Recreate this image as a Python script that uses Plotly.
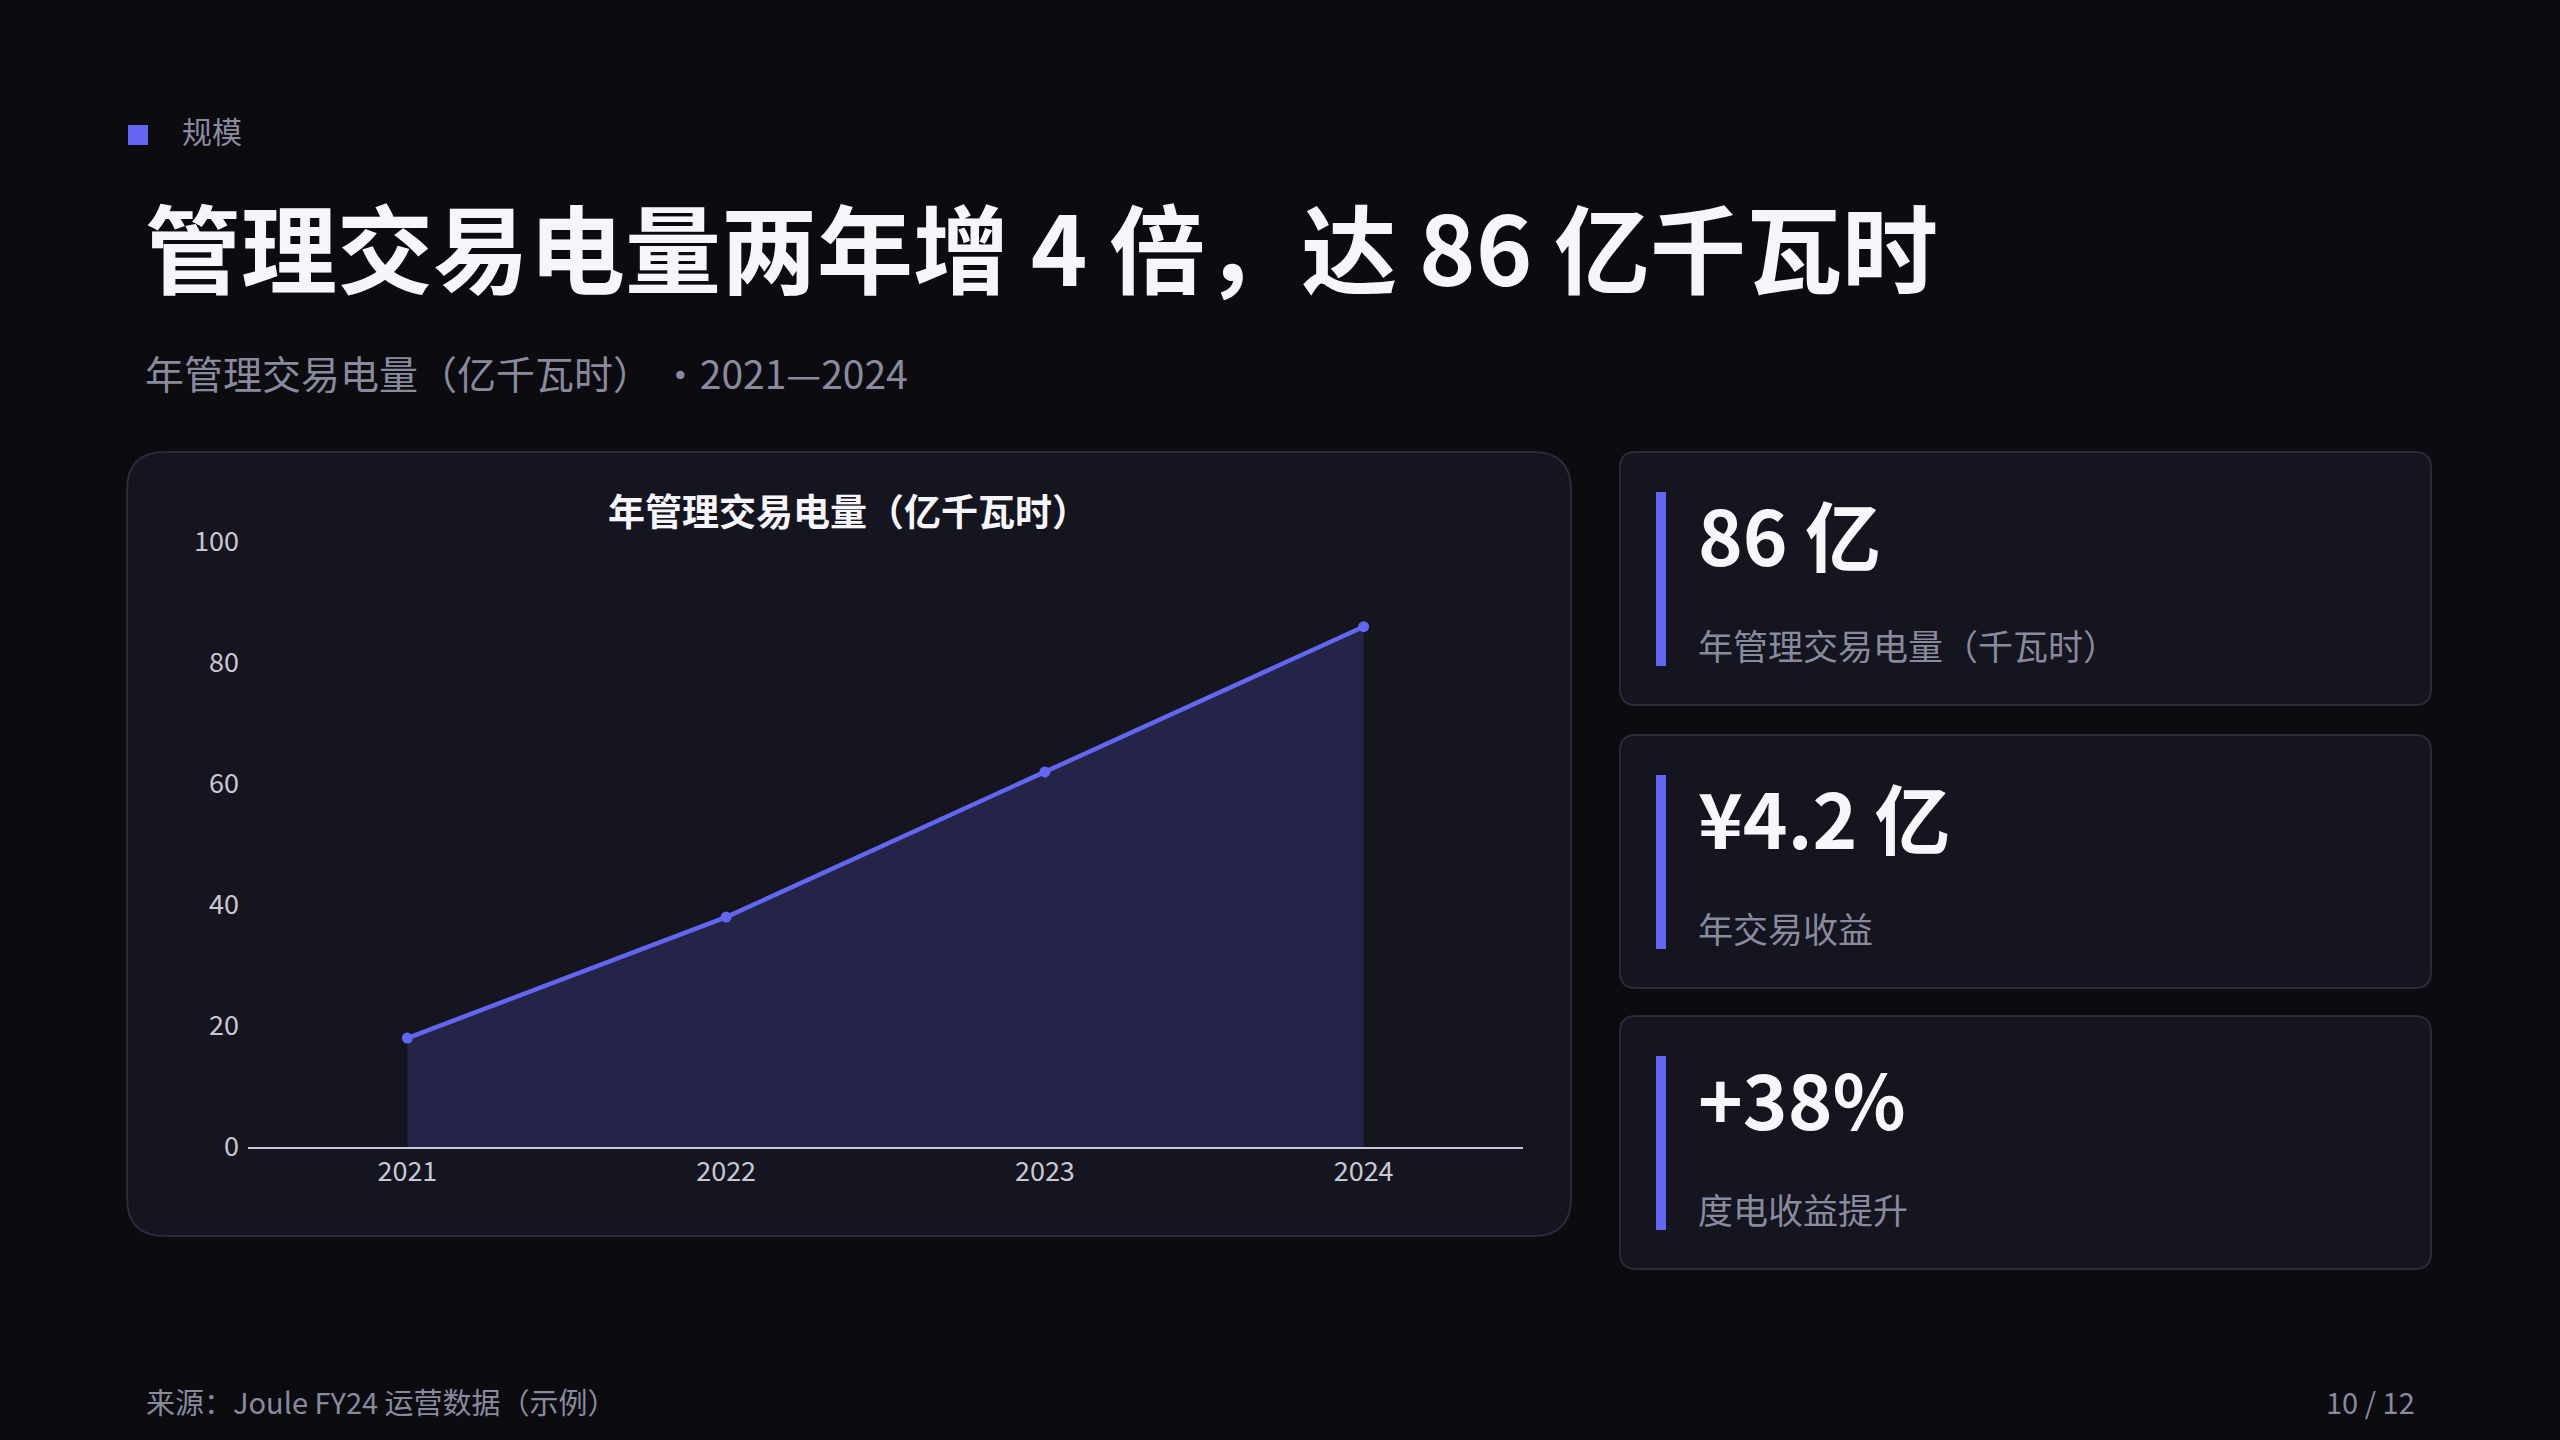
import plotly.graph_objects as go

W, H = 2560, 1440

years = ['2021', '2022', '2023', '2024']
volume = [18, 38, 62, 86]  # 亿千瓦时
y_ticks = [0, 20, 40, 60, 80, 100]

kpi_values = ['86 亿', '¥4.2 亿', '+38%']
kpi_labels = ['年管理交易电量（千瓦时）', '年交易收益', '度电收益提升']

BG = '#0b0b10'
CARD = '#15151f'
BORDER = '#2a2a3a'
ACCENT = '#6366f1'
MUTED = '#8a8a9e'
FONT = 'Noto Sans CJK SC'


def px(x, y):
    return x / W, 1 - y / H


def rrect(x0, y0, x1, y1, r):
    def p(x, y):
        a, b = px(x, y)
        return f'{a:.5f},{b:.5f}'

    path = (f'M {p(x0 + r, y0)} L {p(x1 - r, y0)} Q {p(x1, y0)} {p(x1, y0 + r)} '
            f'L {p(x1, y1 - r)} Q {p(x1, y1)} {p(x1 - r, y1)} '
            f'L {p(x0 + r, y1)} Q {p(x0, y1)} {p(x0, y1 - r)} '
            f'L {p(x0, y0 + r)} Q {p(x0, y0)} {p(x0 + r, y0)} Z')
    return dict(type='path', xref='paper', yref='paper', path=path,
                fillcolor=CARD, line=dict(color=BORDER, width=2), layer='below')


def text(x, y, s, size, color, bold=False, anchor='left'):
    a, b = px(x, y)
    return dict(x=a, y=b, xref='paper', yref='paper', text=f'<b>{s}</b>' if bold else s,
                showarrow=False, xanchor=anchor, yanchor='middle',
                font=dict(family=FONT, size=size, color=color))


fig = go.Figure()
fig.add_trace(go.Scatter(
    x=years, y=volume, mode='lines+markers',
    line=dict(color=ACCENT, width=4.5),
    marker=dict(color=ACCENT, size=11),
    fill='tozeroy', fillcolor='rgba(99,102,241,0.2)',
    hoverinfo='skip', showlegend=False,
))

shapes = [rrect(127, 452, 1571, 1236, 38)]
a0, b0 = px(128, 125)
a1, b1 = px(148, 145)
shapes.append(dict(type='rect', xref='paper', yref='paper', x0=a0, y0=b0, x1=a1, y1=b1,
                   fillcolor=ACCENT, line=dict(width=0)))

annotations = [
    text(180, 130, '规模', 30, MUTED),
    text(143, 244, '管理交易电量两年增 4 倍，达 86 亿千瓦时', 96, '#f5f5fa', bold=True),
    text(143, 372, '年管理交易电量（亿千瓦时） ·2021—2024', 39, MUTED),
    text(848, 510, '年管理交易电量（亿千瓦时）', 37, '#f5f5fa', bold=True, anchor='center'),
    text(144, 1401, '来源：Joule FY24 运营数据（示例）', 29, MUTED),
    text(2417, 1401, '10 / 12', 29, MUTED, anchor='right'),
]

card_tops = [452, 735, 1016]
for top, val, lab in zip(card_tops, kpi_values, kpi_labels):
    shapes.append(rrect(1620, top, 2431, top + 253, 16))
    a0, b0 = px(1656, top + 40)
    a1, b1 = px(1666, top + 214)
    shapes.append(dict(type='rect', xref='paper', yref='paper', x0=a0, y0=b0, x1=a1, y1=b1,
                       fillcolor=ACCENT, line=dict(width=0)))
    annotations.append(text(1696, top + 81, val, 76, '#f7f7fb', bold=True))
    annotations.append(text(1696, top + 192, lab, 35, MUTED))

fig.update_layout(
    width=W, height=H,
    margin=dict(l=0, r=0, t=0, b=0, pad=0, autoexpand=False),
    paper_bgcolor=BG, plot_bgcolor='rgba(0,0,0,0)',
    font=dict(family=FONT, color='#c8c8d4'),
    shapes=shapes, annotations=annotations,
    xaxis=dict(type='category', range=[-0.5, 3.5], domain=[248 / W, 1523 / W],
               automargin=False, showgrid=False, zeroline=False, showline=True,
               linecolor='#c8c8da', linewidth=2, ticks='',
               tickfont=dict(size=27, color='#c8c8d4')),
    yaxis=dict(range=[0, 100], domain=[1 - 1147 / H, 1 - 542 / H], tickvals=y_ticks,
               automargin=False, showgrid=False, zeroline=False, showline=False, ticks='',
               ticklabelstandoff=8, tickfont=dict(size=27, color='#c8c8d4')),
)

# page margin off so the figure sits flush in the window
fig.write_html('out.html', config={'displayModeBar': False},
               post_script="document.body.style.margin='0';"
                           "document.body.style.background='#0b0b10';")
